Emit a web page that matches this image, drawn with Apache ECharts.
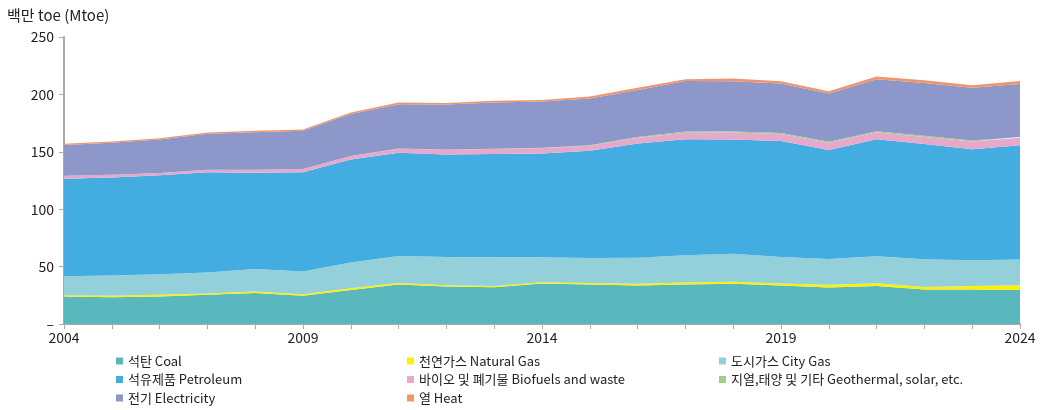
<!DOCTYPE html>
<html>
<head>
<meta charset="utf-8">
<script src="https://cdn.jsdelivr.net/npm/echarts@6/dist/echarts.min.js"></script>
<style>
html,body{margin:0;padding:0;background:#fff;}
#chart{width:1040px;height:410px;}
</style>
</head>
<body>
<div id="chart"></div>
<script>
const years = ['2004','2005','2006','2007','2008','2009','2010','2011','2012','2013','2014','2015','2016','2017','2018','2019','2020','2021','2022','2023','2024'];
const coal        = [24.0,23.4,23.9,25.4,27.1,24.5,29.7,34.4,32.6,32.1,35.2,34.4,33.5,34.4,35.0,33.5,31.7,33.2,30.0,30.0,29.7];
const naturalGas  = [1.1,1.1,1.5,1.1,1.2,1.5,1.5,1.4,1.2,1.1,1.2,1.4,1.5,1.7,1.7,1.7,2.4,2.4,2.3,3.2,4.1];
const cityGas     = [16.4,17.7,18.0,18.3,19.7,19.7,22.3,23.5,24.6,25.0,21.8,21.8,22.8,23.8,24.6,23.2,22.6,23.4,24.1,22.4,22.3];
const petroleum   = [85.1,85.5,86.1,87.3,83.8,86.4,89.9,89.8,89.3,89.8,90.4,93.3,99.5,101.1,99.5,100.9,94.8,102.0,100.3,96.7,99.5];
const biofuels    = [2.6,2.3,2.0,2.3,2.6,2.9,2.9,3.6,4.2,4.4,4.7,4.3,4.9,5.5,6.1,6.1,6.3,6.1,6.3,6.7,6.6];
const geothermal  = [0.0,0.0,0.0,0.0,0.0,0.0,0.1,0.2,0.2,0.2,0.2,0.6,0.8,1.2,0.8,0.9,0.9,0.9,0.9,0.9,0.8];
const electricity = [26.7,27.8,29.3,31.3,32.7,33.3,36.5,38.6,39.1,40.4,40.3,40.6,40.9,44.0,43.8,43.2,42.1,45.2,46.1,45.8,46.1];
const heat        = [1.1,1.2,1.1,1.2,1.2,1.2,1.4,1.5,1.4,1.4,1.4,1.8,1.8,1.5,2.3,2.0,2.0,2.4,2.3,2.3,2.6];
const yTicks = [0,50,100,150,200,250];

const names = ['석탄 Coal','천연가스 Natural Gas','도시가스 City Gas','석유제품 Petroleum','바이오 및 폐기물 Biofuels and waste','지열,태양 및 기타 Geothermal, solar, etc.','전기 Electricity','열 Heat'];
const colors = ['#59b8be','#fff000','#94d0da','#43ade2','#e8a8cb','#9fd183','#8e97ca','#f0956a'];
const dataSets = [coal,naturalGas,cityGas,petroleum,biofuels,geothermal,electricity,heat];
const FONT = "'Noto Sans CJK KR', 'Noto Sans', sans-serif";

const chart = echarts.init(document.getElementById('chart'), null, {renderer:'canvas'});
const legendBase = {
  orient:'vertical', icon:'rect', itemWidth:7, itemHeight:7, itemGap:5.5,
  padding:0, height:60,
  textStyle:{fontFamily:FONT, fontSize:13, color:'#222', lineHeight:13},
  top:354.5, selectedMode:false
};
chart.setOption({
  animation:false,
  color:colors,
  grid:{left:64, right:20, top:37, bottom:86},
  legend:[
    Object.assign({}, legendBase, {left:116, data:[names[0],names[3],names[6]]}),
    Object.assign({}, legendBase, {left:407, data:[names[1],names[4],names[7]]}),
    Object.assign({}, legendBase, {left:719, data:[names[2],names[5]]})
  ],
  xAxis:{
    type:'category', data:years, boundaryGap:false,
    axisLine:{lineStyle:{color:'#aaaaaa', width:2}},
    axisTick:{show:true, interval:0, length:5, lineStyle:{color:'#aaaaaa'}},
    axisLabel:{interval:4, fontFamily:FONT, fontSize:14, color:'#222', margin:7}
  },
  yAxis:{
    type:'value', min:0, max:250, interval:50,
    name:'백만 toe (Mtoe)', nameLocation:'end', nameGap:22,
    nameTextStyle:{fontFamily:FONT, fontSize:15, color:'#222', align:'left', verticalAlign:'middle', padding:[0,0,0,-57]},
    axisLine:{show:true, lineStyle:{color:'#aaaaaa', width:2}},
    axisTick:{show:true, length:5, lineStyle:{color:'#aaaaaa'}},
    splitLine:{show:false},
    axisLabel:{fontFamily:FONT, fontSize:14, color:'#222', margin:10,
      formatter:v => v === 0 ? '–' : String(v)}
  },
  series: dataSets.map((d,i) => ({
    name:names[i], type:'line', stack:'total', data:d,
    symbol:'none', showSymbol:false,
    lineStyle:{width:0, opacity:0},
    areaStyle:{color:colors[i], opacity:1},
    itemStyle:{color:colors[i]},
    emphasis:{disabled:true}
  }))
});
</script>
</body>
</html>
